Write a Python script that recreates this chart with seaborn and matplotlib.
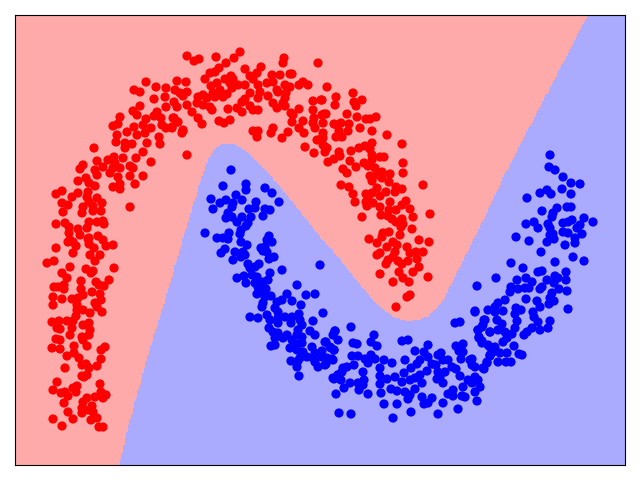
import numpy as np
import pandas as pd
import seaborn as sns
import matplotlib.pyplot as plt
from matplotlib.colors import ListedColormap
from matplotlib.path import Path

# values
red_points = [
(187,56),(146,82),(156,87),(134,90),(140,92),(166,88),(177,81),(186,82),(175,90),(180,93),(154,99),(165,97),(174,102),(177,107),(187,105),
(140,106),(166,107),(157,112),(133,111),(137,115),(154,116),(161,118),(120,117),(146,119),(174,118),(178,122),(113,126),(118,124),(143,125),(134,127),
(151,128),(162,125),(166,128),(172,128),(183,131),(127,132),(117,135),(145,133),(137,135),(159,137),(116,142),(147,143),(160,144),(125,143),(132,144),
(125,148),(143,152),(94,148),(136,158),(123,158),(114,157),(108,160),(97,161),(151,162),(115,163),(83,165),(80,169),(103,167),(130,166),
(133,168),(120,168),(95,170),(113,168),(110,173),(97,175),(130,176),(143,176),(118,177),(78,181),(86,178),(89,183),(135,184),(95,186),(120,184),
(113,187),(120,189),(62,191),(56,194),(88,192),(78,193),(72,197),(87,197),(97,198),(89,202),(62,203),(68,205),(102,203),(83,207),(93,206),
(130,207),(93,211),(63,212),(82,213),(101,211),(56,224),(65,223),(89,222),(97,222),(103,221),(104,224),(69,227),(78,229),(87,228),(69,233),
(80,235),(98,236),(89,238),(103,240),(70,240),
(88,239),(68,242),(73,242),(89,244),(113,245),(106,246),(76,246),(56,248),(94,248),(73,253),(90,255),(100,255),(95,261),(54,261),(47,263),
(70,267),(114,268),(86,269),(93,271),(91,273),(62,273),(67,278),(81,281),(109,280),(96,282),(104,286),(99,285),(64,285),(54,287),(58,287),
(64,289),(81,289),(92,292),(100,294),(53,297),(62,299),(83,295),(72,299),(78,298),(101,300),(95,303),(53,305),(77,305),(97,307),(77,310),
(83,310),(102,312),(90,313),(76,316),(52,322),(59,321),(67,321),(73,321),(89,323),(83,325),(57,328),(60,329),(72,328),(90,330),(70,335),
(89,335),(82,337),(56,339),(60,340),(83,340),(74,346),(87,346),(105,347),(101,350),(52,348),(60,349),(74,353),(67,356),(79,358),(101,359),
(82,365),(86,364),(97,366),(89,368),(65,368),(82,376),(87,375),(84,377),(57,382),(100,384),(77,386),(73,388),(53,390),(76,392),(61,393),
(65,392),(101,392),(106,395),(68,396),(95,397),(103,398),(87,398),(83,402),(64,403),(92,406),(82,408),(93,412),(68,412),(82,413),(88,410),
(97,418),(53,419),(73,419),(91,420),(62,426),(99,427),(103,427),
(199,59),(194,61),(216,57),(234,58),(240,52),(284,58),(283,63),(318,63),(226,63),(219,68),(210,73),(215,72),(245,69),(261,67),(257,73),
(250,76),(272,75),(280,75),(290,74),(292,74),(205,79),(231,76),(225,79),(233,79),(253,79),(273,82),(230,83),(217,83),(211,86),(238,85),
(245,85),(258,85),(267,83),(285,85),(290,87),(299,85),(303,82),(308,85),(327,87),(220,90),(232,88),(277,90),(260,92),(187,92),(213,93),
(227,94),(250,93),(278,92),(286,93),(203,95),(223,97),(215,97),(183,96),(268,96),(198,97),(207,98),(245,99),(258,98),(285,98),(313,101),
(321,100),(197,103),(203,105),(242,102),(250,106),(273,103),(283,103),(210,107),(212,110),(237,108),(228,109),(277,108),(285,106),(299,109),(313,110),
(192,112),(242,112),(253,110),(258,110),(291,113),(293,115),(324,114),(314,118),(173,118),(198,118),(230,120),(219,121),(224,123),(177,122),(202,124),
(292,122),(303,121),(323,123),(313,123),(172,127),(299,128),(315,128),(183,130),(182,133),(253,131),(258,131),(273,128),(271,133),(288,132),(304,133),
(323,133),(257,137),(282,138),(317,140),(323,138),(305,147),(325,147),(314,153),(325,152),(187,155),(328,162),
(353,93),(336,97),(322,100),(362,100),(354,102),(356,106),(335,105),(347,114),(322,115),(326,114),(357,117),(376,117),(370,119),(366,119),(334,124),
(341,123),(349,124),(337,125),(360,128),(348,131),(372,131),(339,131),(387,135),(336,137),(342,137),(322,138),(402,144),(372,143),(365,146),(359,148),
(323,145),(327,148),(370,149),(351,151),(339,152),(340,156),(372,155),(380,157),(384,157),(334,159),(350,161),(372,160),(403,163),(364,163),(356,167),
(368,166),(375,168),(343,169),(347,173),(382,172),(403,173),(390,174),(370,176),(377,175),(382,178),(372,181),(389,182),(341,185),(423,185),(349,187),
(396,187),(402,189),(377,188),(395,192),(386,192),(353,194),(366,194),(372,193),(380,196),(368,199),(355,202),(366,202),(390,202),(406,201),(402,205),
(367,206),(373,203),(380,207),(410,209),(389,210),(396,210),(381,215),(430,214),(388,216),(413,217),(362,217),(402,219),(392,219),(396,222),(403,224),
(412,229),(389,232),(401,227),(383,233),(400,235),(382,237),(369,239),(419,240),(377,243),(429,242),(393,242),(397,245),(387,247),(407,247),(395,252),
(410,253),(416,252),(423,252),(380,253),(377,255),(393,257),(417,259),(398,261),(408,261),(388,260),(402,264),(386,264),(419,267),(413,272),(399,272),
(380,274),(428,277),(403,278),(393,282),(409,282),(410,295),(407,297),(396,307),
]

blue_points = [
(231,170),(246,184),(223,186),(246,190),(265,188),(272,193),(236,195),(211,199),(226,200),(220,203),(242,200),(233,203),(279,202),(256,202),(232,207),
(213,209),(249,209),(255,208),(265,209),(270,210),(228,213),(263,216),(232,217),(226,218),(242,217),(251,217),(237,222),(248,223),(246,226),(241,230),
(240,234),(229,233),(205,233),(217,238),(223,238),(228,239),(269,236),(272,242),(267,240),(241,242),(247,245),(261,248),(265,247),(225,249),(221,253),
(235,252),(243,252),(267,252),(263,251),(245,255),(241,257),(233,260),(274,257),(269,259),(259,264),(248,264),(320,265),(255,267),(250,268),(282,270),
(270,273),(244,276),(237,278),(257,277),(252,275),(268,280),(263,282),(246,283),(255,283),(297,285),(258,287),(266,289),(260,292),(257,294),(306,295),
(315,294),(287,294),(271,296),(265,297),(282,300),(263,303),(292,301),(277,302),(301,305),(262,307),(275,308),(278,312),(323,313),(250,317),(258,318),
(267,315),(299,314),(285,317),(278,318),(292,317),(270,320),(313,321),(300,320),(291,323),(278,323),(302,325),(269,328),(273,332),(310,331),(298,330),
(335,331),(315,335),(278,333),(287,335),(333,335),(297,335),(283,338),(302,337),(275,338),(338,340),(292,340),(325,342),(275,345),(271,346),(297,344),
(302,343),(330,347),(290,348),(312,347),(334,350),(297,350),(303,352),(322,351),(315,353),(307,357),(322,357),(300,358),(313,358),(332,359),(291,361),
(315,362),(298,361),(325,365),(318,367),(297,367),(343,368),(338,375),(299,376),(333,378),
(475,312),(455,323),(460,322),(351,327),(484,320),(335,331),(482,327),(490,332),(478,330),(374,335),(326,342),(371,342),(402,341),(408,340),(479,338),
(353,343),(357,344),(377,346),(482,343),(428,345),(463,344),(456,346),(331,348),(334,350),(459,351),(415,351),(490,347),(424,352),(441,353),(463,352),
(438,355),(352,356),(358,356),(371,355),(428,357),(490,355),(327,358),(365,359),(375,359),(333,360),(384,360),(405,360),(443,360),(461,359),(420,360),
(368,363),(392,363),(448,360),(470,360),(487,363),(326,364),(354,365),(347,367),(417,364),(432,364),(472,365),(380,368),(411,368),(436,365),(452,367),
(484,369),(456,369),(342,372),(363,372),(427,371),(404,373),(438,372),(445,372),(420,375),(338,375),(460,376),(380,376),(395,377),(440,377),(415,378),
(475,377),(437,379),(468,380),(334,379),(341,380),(387,379),(410,380),(478,380),(364,380),(422,383),(443,383),(402,382),(380,384),(358,383),(350,383),
(363,385),(463,387),(480,387),(472,383),(344,388),(359,390),(415,389),(391,389),(397,391),(405,392),(453,390),(336,394),(381,393),(368,394),(448,394),
(475,392),(410,395),(462,396),(453,396),(422,397),(408,399),(432,398),(465,397),(477,401),(443,403),(428,403),(424,404),(384,404),(397,404),(458,409),
(411,412),(339,413),(351,414),(438,414),(393,418),
(550,155),(549,167),(555,170),(563,177),(580,184),(571,183),(562,189),(547,190),(540,193),(551,194),(571,194),(527,198),(567,207),(571,207),(557,208),
(542,211),(553,213),(552,217),(584,218),(572,220),(593,222),(534,222),(526,224),(548,224),(563,223),(568,222),(580,225),(538,228),(550,228),(577,228),
(563,232),(568,233),(553,234),(582,234),(516,237),(550,235),(575,238),(554,239),(529,241),(547,242),(575,243),(565,245),(541,252),(573,257),(584,261),
(511,263),(555,262),(523,268),(566,272),(538,272),(542,271),(496,278),(526,278),(555,276),(517,280),(558,278),(566,280),(532,282),(547,280),(554,283),
(477,286),(511,287),(525,288),(542,287),(518,289),(529,288),(540,289),(559,289),(567,291),(510,292),(552,293),(550,298),(554,301),(505,300),(526,299),
(537,301),(498,303),(549,304),(540,307),(495,307),(516,308),(568,309),(475,311),(488,310),(503,311),(521,310),(495,312),(533,312),(515,314),(534,317),
(485,320),(497,320),(517,321),(538,322),(550,321),(502,324),(483,325),(515,328),(532,328),(548,328),(478,330),(490,332),(498,330),(540,330),(527,332),
(505,332),(524,335),(512,334),(479,337),(507,338),(482,341),(503,342),(488,345),(495,347),(514,346),(493,352),(507,353),(519,354),(522,355),(500,353),
(490,356),(498,362),(472,359),(487,362),(506,362),(511,362),(475,367),(483,368),
]

# outline of the red class region
region_outline = [
(15,15),(588,15),(520,145),(503,178),(487,212),(470,247),(455,277),(446,295),(438,307),(428,316),(418,320),(408,321),(396,318),(385,311),(373,300),
(353,276),(337,256),(320,237),(295,205),(278,184),(267,172),(253,157),(243,149),(233,144),(222,144),(214,149),(208,160),(202,176),(188,222),(165,300),(148,355),
(130,420),(119,465),(15,465),
]

region_colors = ["#AAAAFF", "#FFAAAA"]
class_colors = {"red": "#FF0000", "blue": "#0000FF"}

df = pd.concat([
    pd.DataFrame(red_points, columns=["x", "y"]).assign(label="red"),
    pd.DataFrame(blue_points, columns=["x", "y"]).assign(label="blue"),
])

fig, ax = plt.subplots(figsize=(6.4, 4.8), dpi=100)

# decision regions on a coarse grid, like a meshgrid classifier plot
gx, gy = np.meshgrid(np.arange(15, 626, 1.6), np.arange(15, 466, 1.6))
inside = Path(region_outline).contains_points(np.c_[gx.ravel(), gy.ravel()]).reshape(gx.shape)
ax.pcolormesh(gx, gy, inside.astype(int), cmap=ListedColormap(region_colors), shading="nearest", vmin=0, vmax=1)

sns.scatterplot(data=df, x="x", y="y", hue="label", palette=class_colors, s=44, linewidth=0, legend=False, ax=ax)

ax.set_xlim(15, 625)
ax.set_ylim(465, 15)
ax.set_xticks([])
ax.set_yticks([])
ax.set_xlabel("")
ax.set_ylabel("")
fig.tight_layout()
fig.savefig("out.png")
